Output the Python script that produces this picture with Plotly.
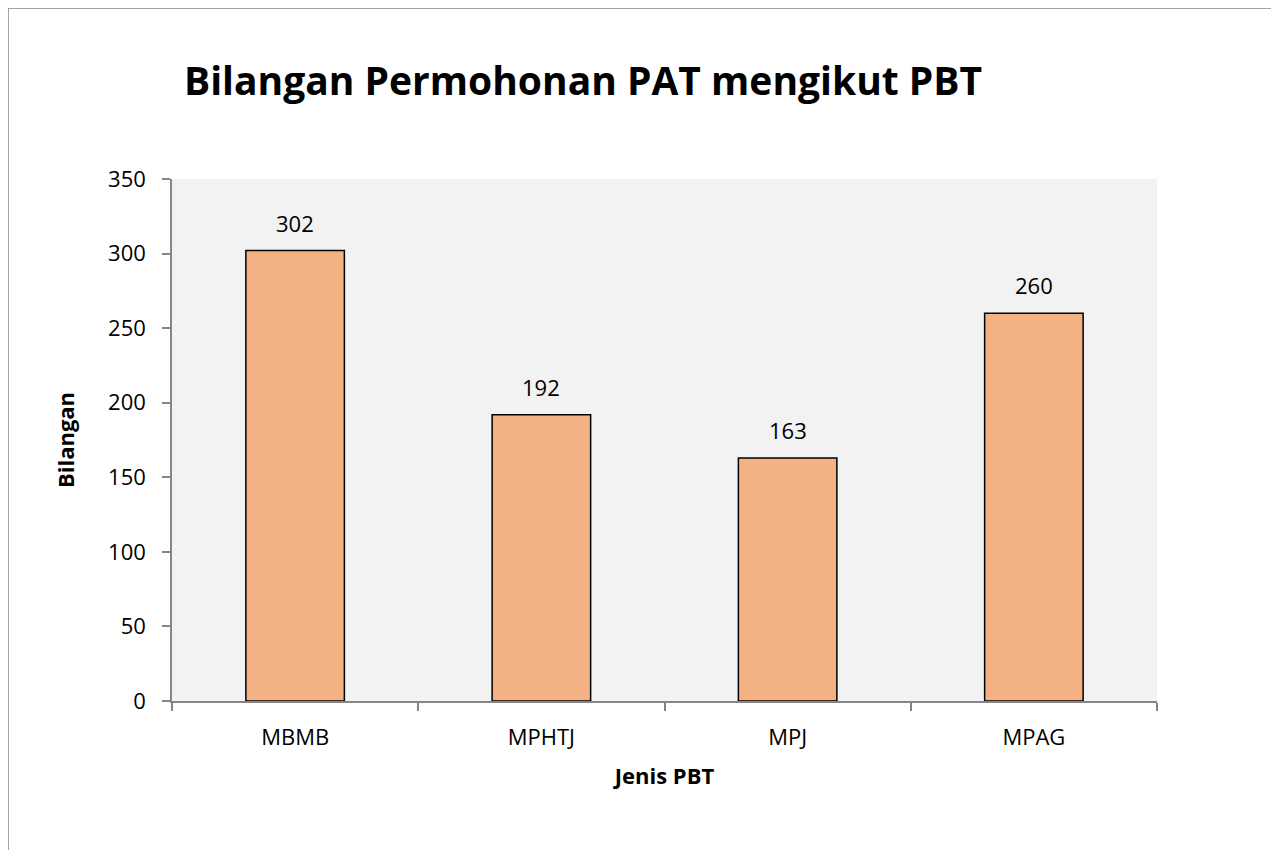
import plotly.graph_objects as go

categories = ["MBMB", "MPHTJ", "MPJ", "MPAG"]
values = [302, 192, 163, 260]
y_ticks = [0, 50, 100, 150, 200, 250, 300, 350]

FONT = "Open Sans"
OFF = 7  # page offset of the plot div

fig = go.Figure()
fig.add_trace(go.Bar(
    x=categories, y=values, width=0.4,
    marker=dict(color="#F4B183", line=dict(color="black", width=1.5)),
    hoverinfo="x+y",
))

for c, v in zip(categories, values):
    fig.add_annotation(x=c, y=v, text=str(v), showarrow=False, yanchor="bottom",
                       yshift=11, font=dict(family=FONT, size=22, color="black"))

# outer frame (left, top, right)
fig.add_shape(type="path", xref="paper", yref="paper",
              path="M -0.1665 -0.32 L -0.1665 1.3276 L 1.1215 1.3276 L 1.1215 -0.32",
              line=dict(color="#868686", width=1.5))

fig.update_layout(
    width=1279, height=850,
    margin=dict(l=171 - OFF, r=1279 - 1156 + OFF, t=178 - OFF, b=850 - 700 + OFF),
    paper_bgcolor="white", plot_bgcolor="#F2F2F2",
    showlegend=False,
    title=dict(text="<b>Bilangan Permohonan PAT mengikut PBT</b>",
               x=(183 - OFF) / 1279, xanchor="left", y=1 - (80 - OFF) / 850, yanchor="middle",
               font=dict(family=FONT, size=39, color="black")),
    font=dict(family=FONT, size=22, color="black"),
)
fig.update_xaxes(
    type="category", tickson="boundaries", ticks="outside", ticklen=8,
    tickcolor="#868686", tickwidth=1.5,
    showline=True, linecolor="#868686", linewidth=1.5, showgrid=False,
    tickfont=dict(family=FONT, size=22), ticklabelstandoff=16,
    title=dict(text="<b>Jenis PBT</b>", font=dict(family=FONT, size=22), standoff=18),
)
fig.update_yaxes(
    range=[0, 350], tickvals=y_ticks, ticks="outside", ticklen=8,
    tickcolor="#868686", tickwidth=1.5,
    showline=True, linecolor="#868686", linewidth=1.5, showgrid=False, zeroline=False,
    tickfont=dict(family=FONT, size=22), ticklabelstandoff=12,
    title=dict(text="<b>Bilangan</b>", font=dict(family=FONT, size=22), standoff=27),
)

fig.write_html("out.html")
